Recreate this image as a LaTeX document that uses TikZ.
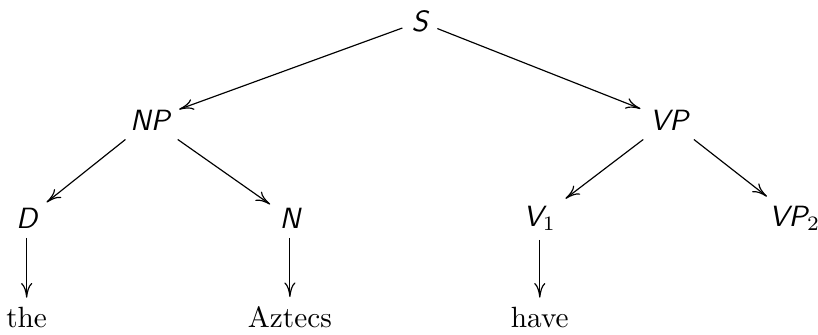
\documentclass[tikz,border=0pt]{standalone}
\usetikzlibrary{arrows.meta}
\begin{document}
\begin{tikzpicture}[
  cat/.style={font=\sffamily\itshape, inner sep=3pt},
  word/.style={font=\rmfamily, inner sep=3pt},
  edge/.style={-{To[length=5pt,width=3.8pt]}, thin}
]
\useasboundingbox (0,0) rectangle (9.82,-4.02);
% categories
\node[cat] (S)   at (5.04,-0.26) {S};
\node[cat] (NP)  at (1.80,-1.44) {NP};
\node[cat] (VP)  at (8.03,-1.44) {VP};
\node[cat] (D)   at (0.32,-2.62) {D};
\node[cat] (N)   at (3.48,-2.62) {N};
\node[cat] (V1)  at (6.48,-2.62) {V$_1$};
\node[cat] (VP2) at (9.54,-2.62) {VP$_2$};
% words
\node[word, anchor=base] (the)    at (0.32,-3.93) {the};
\node[word, anchor=base] (aztecs) at (3.48,-3.93) {Aztecs};
\node[word, anchor=base] (have)   at (6.48,-3.93) {have};
% branches
\draw[edge] (S) -- (NP);
\draw[edge] (S) -- (VP);
\draw[edge] (NP) -- (D);
\draw[edge] (NP) -- (N);
\draw[edge] (VP) -- (V1);
\draw[edge] (VP) -- (VP2);
\draw[edge] (D) -- (the);
\draw[edge] (N) -- (aztecs);
\draw[edge] (V1) -- (have);
\end{tikzpicture}
\end{document}
